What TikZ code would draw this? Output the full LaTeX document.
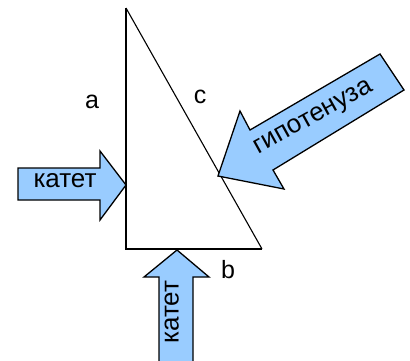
\documentclass[tikz,border=0pt]{standalone}
\usepackage{fontspec}
\setmainfont{Liberation Sans}
\definecolor{arrowblue}{RGB}{153,204,255}
\begin{document}
\begin{tikzpicture}[x=1pt,y=-1pt,
  blockarrow/.style={fill=arrowblue, draw=black, line width=1.3pt, line join=miter},
  side/.style={draw=black, line width=1.6pt},
  hypside/.style={draw=black, line width=1.1pt},
  lbl/.style={font=\fontsize{26}{30}\selectfont, inner sep=0pt, anchor=mid},
  letter/.style={font=\fontsize{25}{30}\selectfont, inner sep=0pt, anchor=base}]
\useasboundingbox (0,0) rectangle (410,360);
\clip (0,0) rectangle (410,360);
% triangle
\coordinate (A) at (126,8);
\coordinate (B) at (126,249);
\coordinate (C) at (262,249);
\draw[side] (A) -- (B) -- (C);
\draw[hypside] (C) -- (A);
% left arrow (leg a)
\draw[blockarrow] (18,168) -- (100,168) -- (100,151) -- (126,185) -- (100,220) -- (100,200) -- (18,200) -- cycle;
% bottom arrow (leg b)
\draw[blockarrow] (159,370) -- (159,277) -- (144,277) -- (177,250) -- (209,277) -- (193,277) -- (193,370) -- cycle;
% hypotenuse arrow
\draw[blockarrow] (218,176) -- (240,111) -- (250,130) -- (380,54) -- (404,90) -- (273,170) -- (284,189) -- cycle;
% texts
\node[lbl] (kl) at (65,185) {катет};
\node[lbl, rotate=90] (kb) at (176,312) {катет};
\node[lbl, rotate=29] (hyp) at (315,120) {гипотенуза};
\node[letter] (la) at (92,108) {a};
\node[letter] (lc) at (200,103) {c};
\node[letter] (lb) at (228,278) {b};
\end{tikzpicture}
\end{document}
